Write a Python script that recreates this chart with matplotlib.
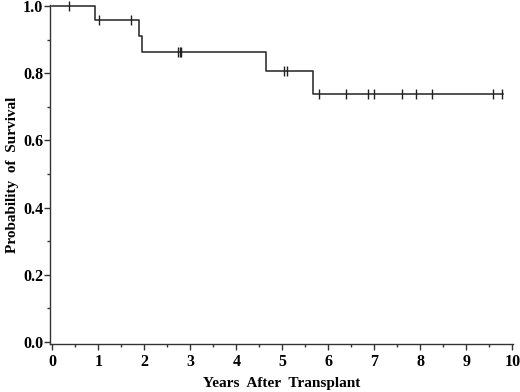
import matplotlib
matplotlib.use('Agg')
import matplotlib.pyplot as plt
from matplotlib.ticker import MultipleLocator

# step curve (time in years, survival probability after the step)
event_times = [0.0, 0.935, 1.89, 1.94, 4.64, 5.67]
surv_values = [1.0, 0.957, 0.911, 0.864, 0.806, 0.739]
end_time = 9.80

# censored observations
censor_times = [0.36, 1.01, 1.72, 2.73, 2.77, 2.80, 5.03, 5.10,
                5.80, 6.39, 6.87, 6.99, 7.60, 7.91, 8.26, 9.57, 9.78]

x_ticks = list(range(0, 11))
y_ticks = [0.0, 0.2, 0.4, 0.6, 0.8, 1.0]


def surv_at(t):
    s = 1.0
    for et, sv in zip(event_times, surv_values):
        if et <= t:
            s = sv
    return s


plt.rcParams['font.family'] = 'Liberation Serif'
plt.rcParams['font.weight'] = 'bold'

fig = plt.figure(figsize=(5.2, 3.92), dpi=100)
ax = fig.add_axes([50 / 520, 48 / 392, 463 / 520, 339 / 392])

xs = event_times + [end_time]
ys = surv_values + [surv_values[-1]]
ax.step(xs, ys, where='post', color='#222222', lw=1.1, clip_on=False)
ax.plot(censor_times, [surv_at(t) for t in censor_times], ls='none',
        marker='|', ms=7, mew=1.0, color='#222222', clip_on=False)

ax.set_xlim(-0.05, 10.015)
ax.set_ylim(-0.006, 1.003)
ax.set_xticks(x_ticks)
ax.set_yticks(y_ticks)
ax.set_yticklabels([f'{v:.1f}' for v in y_ticks])
ax.xaxis.set_minor_locator(MultipleLocator(0.5))
ax.yaxis.set_minor_locator(MultipleLocator(0.1))

for s in ['top', 'right']:
    ax.spines[s].set_visible(False)
for s in ['left', 'bottom']:
    ax.spines[s].set_linewidth(1.0)
    ax.spines[s].set_color('#333333')

ax.tick_params(axis='both', which='major', length=4, width=1, labelsize=11.5, color='#333333')
ax.tick_params(axis='both', which='minor', length=2, width=1, color='#333333')
ax.tick_params(axis='x', pad=3)
ax.tick_params(axis='y', pad=1)

ax.set_xlabel('Years  After  Transplant', fontsize=11, fontweight='bold', labelpad=5)
ax.set_ylabel('Probability  of  Survival', fontsize=11, fontweight='bold', labelpad=3)

fig.savefig('out.png', dpi=100)
